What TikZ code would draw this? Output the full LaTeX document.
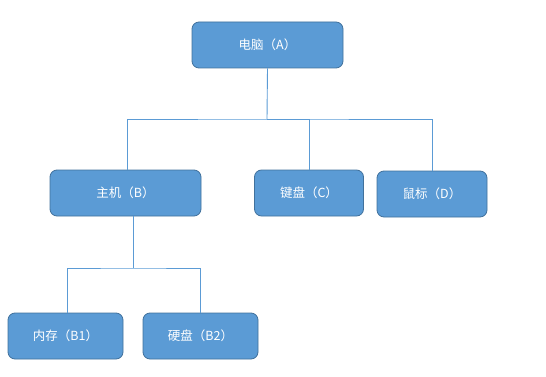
\documentclass[tikz,border=0pt]{standalone}
\usepackage{fontspec}
\newfontfamily\cjk{Noto Sans CJK SC}
\usetikzlibrary{positioning}
\definecolor{boxblue}{HTML}{5B9BD5}
\definecolor{boxedge}{HTML}{41719C}

\begin{document}
\begin{tikzpicture}[x=1pt,y=-1pt,
    box/.style={draw=boxedge, fill=boxblue, rounded corners=7pt, minimum height=46pt, text=white, font=\cjk\fontsize{12.5}{14}\selectfont, line width=0.8pt},
    link/.style={boxblue, line width=0.9pt}]
    \useasboundingbox (0,0) rectangle (546,377);
    % boxes
    \node[box, minimum width=151pt] (A) at (267.5,45) {电脑（A）};
    \node[box, minimum width=151pt] (B) at (125.5,193) {主机（B）};
    \node[box, minimum width=109pt] (C) at (309,193) {键盘（C）};
    \node[box, minimum width=110pt] (D) at (432,194) {鼠标（D）};
    \node[box, minimum width=115pt] (B1) at (65.5,336) {内存（B1）};
    \node[box, minimum width=115pt] (B2) at (200.5,336) {硬盘（B2）};
    % junctions
    \coordinate (jA) at (267,119);
    \coordinate (jB) at (133,268);
    % connectors
    \draw[link] (A.south) -- (jA);
    \draw[link] (B.north -| 127,0) |- (jA) -| (D.north);
    \draw[link] (jA) -| (C.north);
    \draw[link] (B.south -| jB) -- (jB);
    \draw[link] (B1.north -| 67,0) |- (jB) -| (B2.north);
\end{tikzpicture}
\end{document}
